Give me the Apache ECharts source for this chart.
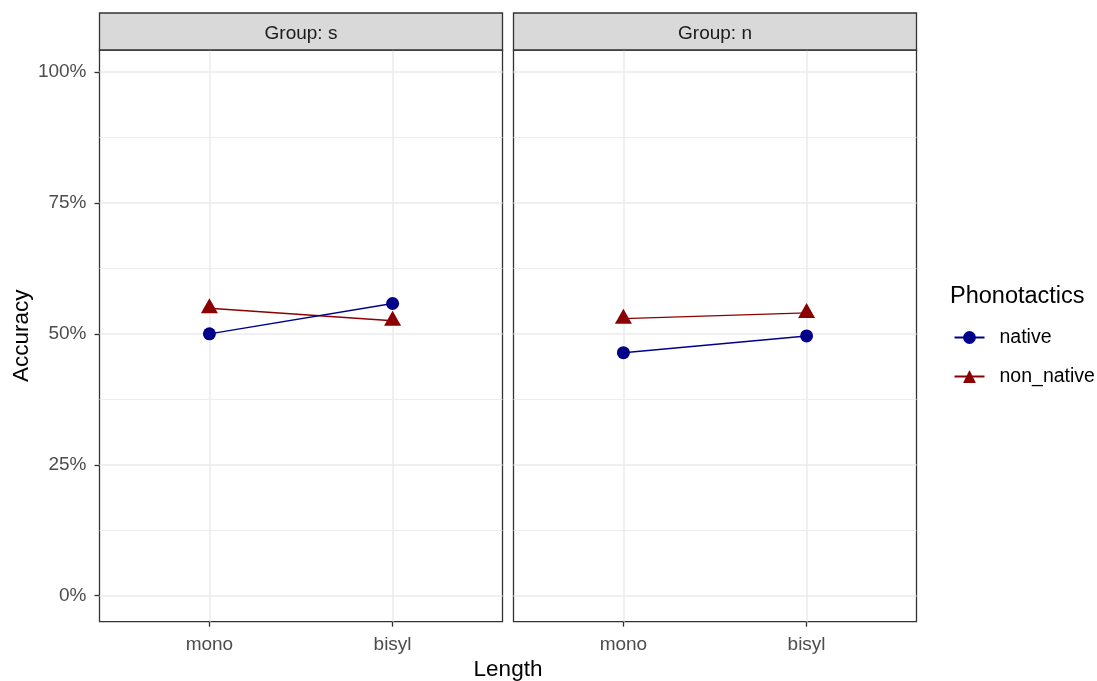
<!DOCTYPE html>
<html>
<head>
<meta charset="utf-8">
<script src="https://cdn.jsdelivr.net/npm/echarts@6/dist/echarts.min.js"></script>
<style>
  html, body { margin: 0; padding: 0; background: #ffffff; }
  #chart { width: 1097px; height: 681px; }
</style>
</head>
<body>
<div id="chart"></div>
<script>
// Word length categories on the x axis of each facet
const lengths = ['mono', 'bisyl'];
// Facet groups (one panel each)
const groups = ['s', 'n'];
// Legend entries
const phonotactics = ['native', 'non_native'];
// Mean accuracy (%) per length, group s
const nativeS = [50.0, 55.8];
const nonNativeS = [54.9, 52.5];
// Mean accuracy (%) per length, group n
const nativeN = [46.4, 49.6];
const nonNativeN = [52.9, 54.0];
// Y axis breaks
const yTicks = [0, 25, 50, 75, 100];
const yMinorBreaks = [12.5, 37.5, 62.5, 87.5];

const FONT = '"Liberation Sans", Arial, sans-serif';
const GRID_COLOR = '#EBEBEB';
const INK = '#333333';
const COLORS = { native: '#00008B', non_native: '#8B0000' };
const SMALL = 19;
const LARGE = 22.5;

const panels = [
  { left: 99.5, values: { native: nativeS, non_native: nonNativeS } },
  { left: 513.5, values: { native: nativeN, non_native: nonNativeN } }
];
const PANEL_TOP = 50;
const PANEL_W = 403;
const PANEL_H = 571.7;
const STRIP_TOP = 13;
const Y_MIN = -4.96;
const Y_MAX = 104.2;

const grid = [], xAxis = [], yAxis = [], series = [], graphic = [];

panels.forEach((p, gi) => {
  grid.push({
    left: p.left, top: PANEL_TOP, width: PANEL_W, height: PANEL_H,
    show: true, backgroundColor: '#ffffff', borderColor: INK, borderWidth: 1.3,
    containLabel: false
  });

  // x: discrete positions 1..n with 0.6 padding on each side
  xAxis.push({
    type: 'value', gridIndex: gi, min: 0.4, max: lengths.length + 0.6,
    position: 'bottom',
    axisLine: { show: false, onZero: false },
    axisTick: { show: true, length: 5, customValues: lengths.map((_, i) => i + 1),
                lineStyle: { color: INK, width: 1.3 } },
    axisLabel: { show: true, customValues: lengths.map((_, i) => i + 1),
                 formatter: v => lengths[Math.round(v) - 1] || '',
                 color: '#4D4D4D', fontSize: SMALL, fontFamily: FONT, margin: 14 },
    splitLine: { show: true, lineStyle: { color: GRID_COLOR, width: 1.5 } }
  });

  // y: major breaks with labels (left panel only)
  yAxis.push({
    type: 'value', gridIndex: gi, min: Y_MIN, max: Y_MAX, position: 'left',
    axisLine: { show: false, onZero: false },
    axisTick: { show: gi === 0, length: 5, customValues: yTicks,
                lineStyle: { color: INK, width: 1.3 } },
    axisLabel: { show: gi === 0, customValues: yTicks, formatter: v => v + '%',
                 color: '#4D4D4D', fontSize: SMALL, fontFamily: FONT, margin: 13 },
    splitLine: { show: true, lineStyle: { color: GRID_COLOR, width: 1.5 } }
  });
  // y: minor grid lines
  yAxis.push({
    type: 'value', gridIndex: gi, min: Y_MIN, max: Y_MAX, position: 'left',
    axisLine: { show: false, onZero: false },
    axisTick: { show: false, customValues: yMinorBreaks },
    axisLabel: { show: false },
    splitLine: { show: true, lineStyle: { color: GRID_COLOR, width: 0.9 } }
  });

  phonotactics.forEach(name => {
    const isNative = name === 'native';
    series.push({
      name: name, type: 'line',
      xAxisIndex: gi, yAxisIndex: gi * 2,
      data: lengths.map((_, i) => [i + 1, p.values[name][i]]),
      symbol: isNative ? 'circle' : 'triangle',
      symbolSize: isNative ? 13 : [17, 15],
      symbolOffset: isNative ? [0, 0] : [0, -2.5],
      color: COLORS[name],
      itemStyle: { color: COLORS[name] },
      lineStyle: { color: COLORS[name], width: 1.4 },
      z: isNative ? 3 : 2
    });
  });

  // facet strip
  graphic.push({
    type: 'rect', z: 10,
    shape: { x: p.left, y: STRIP_TOP, width: PANEL_W, height: PANEL_TOP - STRIP_TOP },
    style: { fill: '#D9D9D9', stroke: INK, lineWidth: 1.3 }
  });
  graphic.push({
    type: 'text', z: 11,
    x: p.left + PANEL_W / 2, y: (STRIP_TOP + PANEL_TOP) / 2 + 2,
    style: { text: 'Group: ' + groups[gi], fill: '#1A1A1A', fontSize: SMALL, fontFamily: FONT,
             align: 'center', verticalAlign: 'middle' }
  });
});

// axis titles
graphic.push({
  type: 'text', x: (99.5 + 513.5 + PANEL_W) / 2, y: 670,
  style: { text: 'Length', fill: '#000000', fontSize: LARGE, fontFamily: FONT,
           align: 'center', verticalAlign: 'middle' }
});
graphic.push({
  type: 'text', x: 22, y: PANEL_TOP + PANEL_H / 2, rotation: Math.PI / 2,
  style: { text: 'Accuracy', fill: '#000000', fontSize: LARGE, fontFamily: FONT,
           align: 'center', verticalAlign: 'middle' }
});

const chart = echarts.init(document.getElementById('chart'), null, { renderer: 'canvas' });
chart.setOption({
  animation: false,
  backgroundColor: '#ffffff',
  title: {
    text: 'Phonotactics', left: 950, top: 285, padding: 0,
    textStyle: { fontSize: 23.5, fontWeight: 'normal', color: '#000000', fontFamily: FONT }
  },
  legend: {
    data: phonotactics, orient: 'vertical', left: 953.5, top: 327.5,
    padding: 0, itemWidth: 30, itemHeight: 16, itemGap: 19,
    textStyle: { fontSize: SMALL + 0.5, color: '#000000', fontFamily: FONT, padding: [2, 0, 0, 10] },
    selectedMode: false
  },
  grid: grid,
  xAxis: xAxis,
  yAxis: yAxis,
  series: series,
  graphic: graphic
});
</script>
</body>
</html>
